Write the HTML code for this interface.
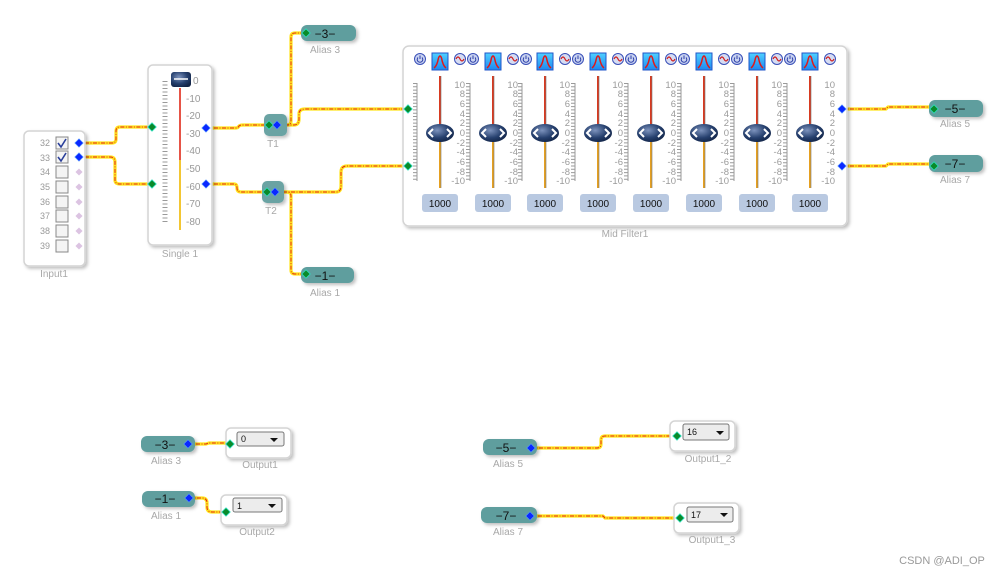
<!DOCTYPE html>
<html><head><meta charset="utf-8"><style>
html,body{margin:0;padding:0;background:#fff;width:998px;height:576px;overflow:hidden}
svg{display:block;font-family:"Liberation Sans",sans-serif}
.lb{font-size:10px;fill:#a8a8a8;text-anchor:middle}
.tk{font-size:9.5px;fill:#9a9a9a;text-anchor:end}
.al{font-size:12px;fill:#111;text-anchor:middle}
.dd{font-size:9px;fill:#111}
</style></head><body>
<svg width="998" height="576" viewBox="0 0 998 576">
<defs>
<filter id="sh" x="-10%" y="-10%" width="130%" height="130%"><feDropShadow dx="2" dy="2" stdDeviation="1.5" flood-color="#000" flood-opacity="0.25"/></filter>
<radialGradient id="kn" cx="0.4" cy="0.35" r="0.7"><stop offset="0" stop-color="#7d93bd"/><stop offset="0.6" stop-color="#26406e"/><stop offset="1" stop-color="#122447"/></radialGradient>
<linearGradient id="pk" x1="0" y1="0" x2="0" y2="1"><stop offset="0" stop-color="#4fd0ff"/><stop offset="1" stop-color="#1e88f0"/></linearGradient>
<g id="ch">
  <line x1="-25" y1="83" x2="-25" y2="181" stroke="#9a9a9a" stroke-width="4" stroke-dasharray="1 2.3"/>
  <line x1="-23" y1="83" x2="-23" y2="181" stroke="#9a9a9a" stroke-width="1"/>
  <line x1="0" y1="76" x2="0" y2="133" stroke="#d83a20" stroke-width="2"/>
  <line x1="0" y1="133" x2="0" y2="188" stroke="#e6a020" stroke-width="2"/>
  <line x1="1" y1="76" x2="1" y2="188" stroke="#777" stroke-width="0.6"/>
  <ellipse cx="0" cy="133" rx="14" ry="9" fill="url(#kn)"/>
  <path d="M-7 129 L-11 133 L-7 137 M7 129 L11 133 L7 137" stroke="#fff" stroke-width="2" fill="none"/>
  <rect x="-8" y="53" width="16" height="17" fill="url(#pk)" stroke="#2256c8" stroke-width="1"/>
  <path d="M-6 68 Q-3 66 -1.5 58 Q0 54 1.5 58 Q3 66 6 68" stroke="#e01818" stroke-width="1.5" fill="none"/>
  <rect x="-18" y="194" width="36" height="18" rx="3" fill="#b9c9e1"/>
</g>
<g id="pw"><circle r="5.5" fill="#c8d2f0" stroke="#3a50b8" stroke-width="1"/><path d="M-2 -1.5 A2.8 2.8 0 1 0 2 -1.5 M0 -3.5 L0 0" stroke="#2d3fa8" stroke-width="1" fill="none"/></g>
<g id="sn"><circle r="5.5" fill="#d6dcf2" stroke="#3a50b8" stroke-width="1"/><path d="M-4 0 Q-2 -4 0 0 Q2 4 4 0" stroke="#d02020" stroke-width="1.2" fill="none"/></g>
<g id="gp"><rect x="-3" y="-3" width="6" height="6" transform="rotate(45)" fill="#0a8a2a" stroke="#2de0c0" stroke-width="0.8"/></g>
<g id="bp"><rect x="-3" y="-3" width="6" height="6" transform="rotate(45)" fill="#0a28ff" stroke="#5aa0ff" stroke-width="0.6"/></g>
<g id="lp"><rect x="-2.5" y="-2.5" width="5" height="5" transform="rotate(45)" fill="#dcc4e2"/></g>
<g id="wires">
<path d="M85 143 H112 Q116 143 116 139 V131 Q116 127 120 127 H152"/>
<path d="M85 157 H110 Q115 157 115 162 V180 Q115 184 120 184 H152"/>
<path d="M206 128 H236 Q238 128 239 126 Q240 125 243 125 H269"/>
<path d="M206 184 H234 Q237 184 237 188 Q237 192 241 192 H267"/>
<path d="M277 125 H287 Q291 125 291 121 V37 Q291 33 295 33 H306"/>
<path d="M277 125 H294 Q299 125 299 119 V114 Q299 109 305 109 H408"/>
<path d="M275 192 H336 Q341 192 341 186 V172 Q341 166 347 166 H408"/>
<path d="M275 192 H287 Q291 192 291 196 V270 Q291 274 295 274 H306"/>
<path d="M842 109 H886 L888 107 H934"/>
<path d="M842 166 H886 L888 164 H934"/>
<path d="M188 444 H206 L209 443 H230"/>
<path d="M189 498 H202 Q207 498 207 503 V507 Q207 512 212 512 H226"/>
<path d="M531 448 H597 Q601 448 601 444 V440 Q601 436 605 436 H677"/>
<path d="M530 516 H603 L605 518 H680"/>
</g>
</defs>

<g fill="none" stroke-linejoin="round">
<use href="#wires" stroke="#ffe31a" stroke-width="3.2"/>
<use href="#wires" stroke="#e4261c" stroke-width="1" stroke-dasharray="4 1.5 1 1.5"/>
</g>

<!-- Input1 -->
<rect x="24" y="131" width="61" height="135" rx="5" fill="#fff" stroke="#d4d4d4" stroke-width="1.5" filter="url(#sh)"/>
<g font-size="9" fill="#999" text-anchor="end">
<text x="50" y="146">32</text><text x="50" y="161">33</text><text x="50" y="175">34</text><text x="50" y="190">35</text>
<text x="50" y="205">36</text><text x="50" y="219">37</text><text x="50" y="234">38</text><text x="50" y="249">39</text>
</g>
<g fill="#f4f4f4" stroke="#888" stroke-width="1">
<rect x="56" y="137" width="12" height="12"/><rect x="56" y="151" width="12" height="12"/><rect x="56" y="166" width="12" height="12"/><rect x="56" y="181" width="12" height="12"/>
<rect x="56" y="196" width="12" height="12"/><rect x="56" y="210" width="12" height="12"/><rect x="56" y="225" width="12" height="12"/><rect x="56" y="240" width="12" height="12"/>
</g>
<path d="M58 143 L61 147 L66 139 M58 157 L61 161 L66 153" stroke="#2a3f9a" stroke-width="1.6" fill="none"/>
<use href="#bp" x="79" y="143"/><use href="#bp" x="79" y="157"/>
<use href="#lp" x="79" y="172"/><use href="#lp" x="79" y="187"/><use href="#lp" x="79" y="202"/><use href="#lp" x="79" y="216"/><use href="#lp" x="79" y="231"/><use href="#lp" x="79" y="246"/>
<text class="lb" x="54" y="277">Input1</text>

<!-- Single 1 -->
<rect x="148" y="65" width="64" height="180" rx="5" fill="#fff" stroke="#d4d4d4" stroke-width="1.5" filter="url(#sh)"/>
<line x1="165" y1="81" x2="165" y2="222" stroke="#9a9a9a" stroke-width="5" stroke-dasharray="1 2.5"/>
<line x1="180" y1="88" x2="180" y2="160" stroke="#e02a18" stroke-width="1.6"/>
<line x1="180" y1="160" x2="180" y2="230" stroke="#f0b800" stroke-width="1.6"/>
<rect x="171" y="72" width="20" height="15" rx="3" fill="url(#kn)"/>
<line x1="174" y1="79" x2="188" y2="79" stroke="#fff" stroke-width="1.5"/>
<g font-size="10" fill="#999">
<text x="193" y="84">0</text><text x="186" y="102">-10</text><text x="186" y="119">-20</text><text x="186" y="137">-30</text><text x="186" y="154">-40</text>
<text x="186" y="172">-50</text><text x="186" y="190">-60</text><text x="186" y="207">-70</text><text x="186" y="225">-80</text>
</g>
<use href="#gp" x="152" y="127"/><use href="#gp" x="152" y="184"/><use href="#bp" x="206" y="128"/><use href="#bp" x="206" y="184"/>
<text class="lb" x="180" y="257">Single 1</text>

<!-- T1 T2 -->
<rect x="264" y="114" width="23" height="22" rx="5" fill="#6aa3a3" filter="url(#sh)"/>
<use href="#gp" x="269" y="125"/><use href="#bp" x="277" y="125"/>
<text class="lb" x="273" y="147">T1</text>
<rect x="262" y="181" width="22" height="22" rx="5" fill="#6aa3a3" filter="url(#sh)"/>
<use href="#gp" x="267" y="192"/><use href="#bp" x="275" y="192"/>
<text class="lb" x="271" y="214">T2</text>

<!-- Alias blocks -->
<g fill="#5f9e9e" filter="url(#sh)">
<rect x="301" y="25" width="55" height="16" rx="6"/>
<rect x="301" y="267" width="53" height="16" rx="6"/>
<rect x="929" y="100" width="54" height="17" rx="6"/>
<rect x="929" y="155" width="54" height="17" rx="6"/>
<rect x="141" y="436" width="54" height="16" rx="6"/>
<rect x="142" y="491" width="53" height="16" rx="6"/>
<rect x="483" y="439" width="54" height="16" rx="6"/>
<rect x="481" y="507" width="56" height="16" rx="6"/>
</g>
<text class="al" x="325" y="38">−3−</text><use href="#gp" x="306" y="33"/><text class="lb" x="325" y="53">Alias 3</text>
<text class="al" x="325" y="280">−1−</text><use href="#gp" x="306" y="274"/><text class="lb" x="325" y="296">Alias 1</text>
<text class="al" x="955" y="113">−5−</text><use href="#gp" x="934" y="109"/><text class="lb" x="955" y="127">Alias 5</text>
<text class="al" x="955" y="168">−7−</text><use href="#gp" x="934" y="166"/><text class="lb" x="955" y="183">Alias 7</text>
<text class="al" x="165" y="449">−3−</text><use href="#bp" x="188" y="444"/><text class="lb" x="166" y="464">Alias 3</text>
<text class="al" x="165" y="503">−1−</text><use href="#bp" x="189" y="498"/><text class="lb" x="166" y="519">Alias 1</text>
<text class="al" x="506" y="452">−5−</text><use href="#bp" x="531" y="448"/><text class="lb" x="508" y="467">Alias 5</text>
<text class="al" x="506" y="520">−7−</text><use href="#bp" x="530" y="516"/><text class="lb" x="508" y="535">Alias 7</text>

<!-- Outputs -->
<g fill="#fff" stroke="#d4d4d4" stroke-width="1.5" filter="url(#sh)">
<rect x="226" y="428" width="65" height="30" rx="5"/>
<rect x="221" y="495" width="66" height="30" rx="5"/>
<rect x="670" y="421" width="65" height="30" rx="5"/>
<rect x="674" y="503" width="65" height="30" rx="5"/>
</g>
<g fill="#ececec" stroke="#777" stroke-width="1">
<rect x="237" y="432" width="47" height="14" rx="2"/>
<rect x="233" y="498" width="49" height="14" rx="2"/>
<rect x="683" y="424" width="46" height="16" rx="2"/>
<rect x="687" y="507" width="46" height="15" rx="2"/>
</g>
<g fill="#111">
<path d="M270 438 h8 l-4 4z"/><path d="M268 504 h8 l-4 4z"/><path d="M716 431 h8 l-4 4z"/><path d="M720 513 h8 l-4 4z"/>
</g>
<text class="dd" x="241" y="442">0</text><text class="dd" x="237" y="509">1</text><text class="dd" x="687" y="435">16</text><text class="dd" x="691" y="518">17</text>
<use href="#gp" x="230" y="444"/><use href="#gp" x="226" y="512"/><use href="#gp" x="677" y="436"/><use href="#gp" x="680" y="518"/>
<text class="lb" x="260" y="468">Output1</text><text class="lb" x="257" y="535">Output2</text>
<text class="lb" x="708" y="462">Output1_2</text><text class="lb" x="712" y="543">Output1_3</text>

<!-- Mid Filter -->
<rect x="403" y="46" width="444" height="180" rx="6" fill="#fff" stroke="#d4d4d4" stroke-width="1.5" filter="url(#sh)"/>
<use href="#ch" x="440"/><use href="#ch" x="493"/><use href="#ch" x="545"/><use href="#ch" x="598"/>
<use href="#ch" x="651"/><use href="#ch" x="704"/><use href="#ch" x="757"/><use href="#ch" x="810"/>
<use href="#pw" x="420" y="59"/><use href="#sn" x="460" y="59"/><use href="#pw" x="473" y="59"/><use href="#sn" x="513" y="59"/><use href="#pw" x="526" y="59"/>
<use href="#sn" x="565" y="59"/><use href="#pw" x="578" y="59"/><use href="#sn" x="618" y="59"/><use href="#pw" x="631" y="59"/><use href="#sn" x="671" y="59"/><use href="#pw" x="684" y="59"/>
<use href="#sn" x="724" y="59"/><use href="#pw" x="737" y="59"/><use href="#sn" x="777" y="59"/><use href="#pw" x="790" y="59"/><use href="#sn" x="830" y="59"/>
<g class="tk">
<g transform="translate(465,0)"><text y="88">10</text><text y="97">8</text><text y="107">6</text><text y="117">4</text><text y="126">2</text><text y="136">0</text><text y="146">-2</text><text y="155">-4</text><text y="165">-6</text><text y="175">-8</text><text y="184">-10</text></g>
<g transform="translate(518,0)"><text y="88">10</text><text y="97">8</text><text y="107">6</text><text y="117">4</text><text y="126">2</text><text y="136">0</text><text y="146">-2</text><text y="155">-4</text><text y="165">-6</text><text y="175">-8</text><text y="184">-10</text></g>
<g transform="translate(570,0)"><text y="88">10</text><text y="97">8</text><text y="107">6</text><text y="117">4</text><text y="126">2</text><text y="136">0</text><text y="146">-2</text><text y="155">-4</text><text y="165">-6</text><text y="175">-8</text><text y="184">-10</text></g>
<g transform="translate(623,0)"><text y="88">10</text><text y="97">8</text><text y="107">6</text><text y="117">4</text><text y="126">2</text><text y="136">0</text><text y="146">-2</text><text y="155">-4</text><text y="165">-6</text><text y="175">-8</text><text y="184">-10</text></g>
<g transform="translate(676,0)"><text y="88">10</text><text y="97">8</text><text y="107">6</text><text y="117">4</text><text y="126">2</text><text y="136">0</text><text y="146">-2</text><text y="155">-4</text><text y="165">-6</text><text y="175">-8</text><text y="184">-10</text></g>
<g transform="translate(729,0)"><text y="88">10</text><text y="97">8</text><text y="107">6</text><text y="117">4</text><text y="126">2</text><text y="136">0</text><text y="146">-2</text><text y="155">-4</text><text y="165">-6</text><text y="175">-8</text><text y="184">-10</text></g>
<g transform="translate(782,0)"><text y="88">10</text><text y="97">8</text><text y="107">6</text><text y="117">4</text><text y="126">2</text><text y="136">0</text><text y="146">-2</text><text y="155">-4</text><text y="165">-6</text><text y="175">-8</text><text y="184">-10</text></g>
<g transform="translate(835,0)"><text y="88">10</text><text y="97">8</text><text y="107">6</text><text y="117">4</text><text y="126">2</text><text y="136">0</text><text y="146">-2</text><text y="155">-4</text><text y="165">-6</text><text y="175">-8</text><text y="184">-10</text></g>
</g>
<g font-size="10" fill="#111" text-anchor="middle">
<text x="440" y="207">1000</text><text x="493" y="207">1000</text><text x="545" y="207">1000</text><text x="598" y="207">1000</text>
<text x="651" y="207">1000</text><text x="704" y="207">1000</text><text x="757" y="207">1000</text><text x="810" y="207">1000</text>
</g>
<use href="#gp" x="408" y="109"/><use href="#gp" x="408" y="166"/><use href="#bp" x="842" y="109"/><use href="#bp" x="842" y="166"/>
<text class="lb" x="625" y="237">Mid Filter1</text>

<text x="942" y="564" font-size="11" fill="#999" text-anchor="middle">CSDN @ADI_OP</text>
</svg>
</body></html>
